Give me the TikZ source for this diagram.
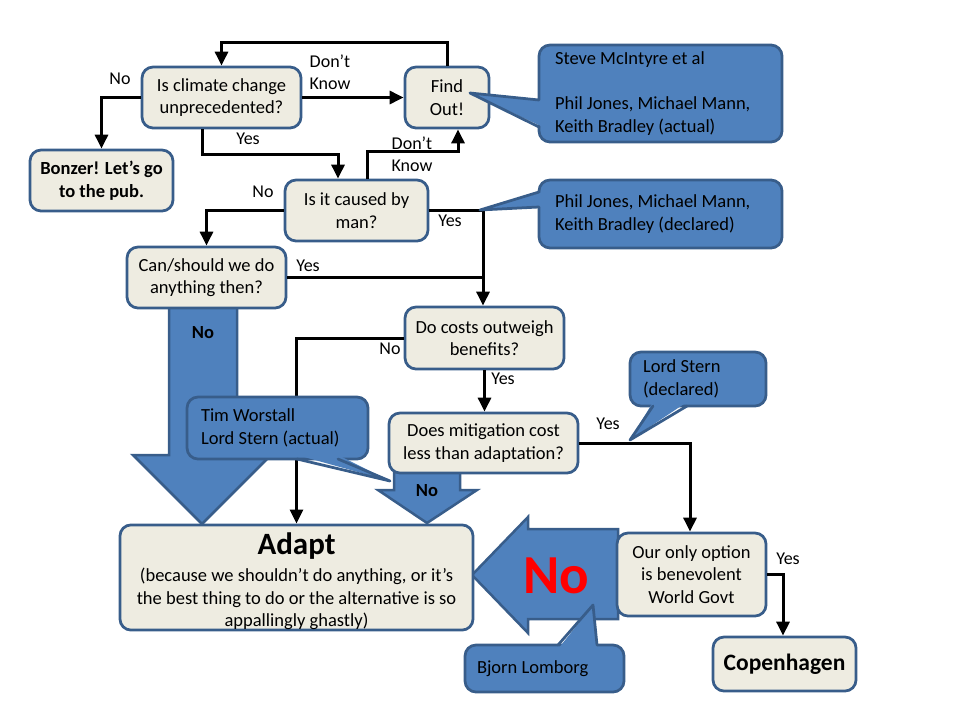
\documentclass[tikz,border=0pt]{standalone}
\usepackage{fontspec}
\setmainfont{Carlito}
\usetikzlibrary{arrows.meta,backgrounds}
\definecolor{boxfill}{HTML}{EEECE1}
\definecolor{boxline}{HTML}{385D8A}
\definecolor{callfill}{HTML}{4F81BD}
\definecolor{nored}{HTML}{FF0000}
\begin{document}
\begin{tikzpicture}[x=1pt,y=-1pt,
  txt/.style={font=\fontsize{18.5}{22.5}\selectfont},
  box/.style={draw=boxline, fill=boxfill, line width=2.75pt, rounded corners=11pt, inner sep=0pt, align=flush center, txt},
  call/.style={draw=boxline, fill=callfill, line width=2.75pt, rounded corners=11pt, inner ysep=0pt, align=flush left, txt},
  conn/.style={line width=3pt, -{Triangle[length=14pt,width=13pt]}},
  plainline/.style={line width=3pt},
  lab/.style={font=\fontsize{18}{22}\selectfont, inner sep=0pt, align=flush center},
  blk/.style={fill=callfill, draw=boxline, line width=2.5pt, line join=miter},
  wedgefill/.style={fill=callfill},
  wedgeline/.style={draw=boxline, line width=2.75pt, line join=round, line cap=round},
]
\useasboundingbox (0,0) rectangle (960,720);

% block arrows (background)
\path[blk] (169,306) -- (237,306) -- (237,455) -- (271,455) -- (202,524) -- (133,455) -- (169,455) -- cycle;
\path[blk] (394,471) -- (460,471) -- (460,490) -- (477,490) -- (427,523) -- (378,490) -- (394,490) -- cycle;
\path[blk] (618,529) -- (528,529) -- (528,517) -- (472,575) -- (528,633) -- (528,619) -- (618,619) -- cycle;
\node[font=\bfseries\fontsize{18.5}{22}\selectfont, inner sep=0pt] (nobig) at (203,333) {No};
\node[font=\bfseries\fontsize{18.5}{22}\selectfont, inner sep=0pt] (nosmall) at (427,491) {No};
\node[font=\bfseries\fontsize{55}{60}\selectfont, text=nored, inner sep=0pt] (nored) at (556,576) {No};

% boxes
\node[box, minimum width=159pt, minimum height=61pt] (q1) at (221.5,97.5) {Is climate change\\unprecedented?};
\node[box, minimum width=84pt, minimum height=61pt] (find) at (447,97.5) {Find\\Out!};
\node[box, minimum width=143pt, minimum height=61pt, font=\bfseries\fontsize{18.5}{22.5}\selectfont] (bonzer) at (101.5,180.5) {Bonzer! Let’s go\\to the pub.};
\node[box, minimum width=143pt, minimum height=61pt] (q2) at (356.5,210.5) {Is it caused by\\man?};
\node[box, minimum width=159pt, minimum height=61pt] (q3) at (206.5,277.5) {Can/should we do\\anything then?};
\node[box, minimum width=159pt, minimum height=62pt] (q4) at (484.5,338) {Do costs outweigh\\benefits?};
\node[box, minimum width=189pt, minimum height=60pt] (q5) at (483.5,443) {Does mitigation cost\\less than adaptation?};
\node[box, minimum width=353pt, minimum height=105pt] (adapt) at (296.5,577.5) {{\bfseries\fontsize{31}{32}\selectfont\rule{0pt}{30pt}Adapt}\\[4.5pt](because we shouldn’t do anything, or it’s\\the best thing to do or the alternative is so\\appallingly ghastly)};
\node[box, minimum width=149pt, minimum height=83pt] (gov) at (691.5,574.5) {Our only option\\is benevolent\\World Govt};
\node[box, minimum width=143pt, minimum height=54pt, font=\bfseries\fontsize{23.5}{26}\selectfont] (cop) at (784.5,664) {Copenhagen};

% connectors
\draw[conn] (q1.west) -| (bonzer.north);
\draw[conn] (q1.east) -- (find.west);
\draw[conn] (find.north) -- ++(0,-23) -| (q1.north);
\draw[conn] ([xshift=-19.5pt]q1.south) -- ++(0,25) -| ([xshift=-18.5pt]q2.north);
\draw[conn] ([xshift=10.5pt]q2.north) -- ++(0,-27) -| ([xshift=11pt]find.south);
\draw[conn] (q2.west) -| (q3.north);
\draw[conn] (q2.east) -| ([xshift=-1.5pt]q4.north);
\draw[plainline] (q3.east) -- ([xshift=-1.5pt]q3.east -| q4.north);
\draw[conn] (q4.west) -| (adapt.north);
\draw[conn] (q4.south) -- (q4.south |- q5.north);
\draw[conn] (q5.east) -| ([xshift=-1.5pt]gov.north);
\draw[conn] (gov.east) -| ([xshift=-1.5pt]cop.north);

% labels
\node[lab] (l1) at (120,79) {No};
\node[lab] (l2) at (330,72) {Don’t\\Know};
\node[lab] (l3) at (248,139) {Yes};
\node[lab] (l4) at (412,154) {Don’t\\Know};
\node[lab] (l5) at (263,192) {No};
\node[lab] (l6) at (450,221) {Yes};
\node[lab] (l7) at (308,266) {Yes};
\node[lab] (l8) at (390,349) {No};
\node[lab] (l9) at (503,379) {Yes};
\node[lab] (l10) at (608,424) {Yes};
\node[lab] (l11) at (788,559) {Yes};

% callouts
\node[call, text width=211pt, inner xsep=16pt, minimum height=97pt] (c1) at (660.5,93.5) {Steve McIntyre et al\\[22.5pt]Phil Jones, Michael Mann,\\Keith Bradley (actual)};
\fill[wedgefill] (543,100) -- (543,127) -- (470,93) -- cycle;
\draw[wedgeline] (539,100) -- (470,93) -- (539,127);

\node[call, text width=211pt, inner xsep=16pt, minimum height=68pt] (c2) at (660.5,214) {Phil Jones, Michael Mann,\\Keith Bradley (declared)};
\fill[wedgefill] (543,192) -- (543,207) -- (480,210) -- cycle;
\draw[wedgeline] (539,192) -- (480,210) -- (539,207);

\node[call, text width=153pt, inner xsep=14pt, minimum height=62pt] (tim) at (277.5,428) {Tim Worstall\\Lord Stern (actual)};
\fill[wedgefill] (297,455) -- (338,455) -- (390,481) -- cycle;
\draw[wedgeline] (297,459) -- (390,481) -- (338,459);

\node[call, text width=110pt, inner xsep=13pt, minimum height=54pt] (stern) at (698,379) {Lord Stern\\(declared)};
\fill[wedgefill] (653,402) -- (687,402) -- (630,440) -- cycle;
\draw[wedgeline] (653,406) -- (630,440) -- (687,406);

\node[call, text width=135pt, inner xsep=12pt, minimum height=47pt] (bjorn) at (544.5,668.5) {Bjorn Lomborg};
\fill[wedgefill] (558,649) -- (597,649) -- (593,605) -- cycle;
\draw[wedgeline] (558,645) -- (593,605) -- (597,645);
\end{tikzpicture}
\end{document}
